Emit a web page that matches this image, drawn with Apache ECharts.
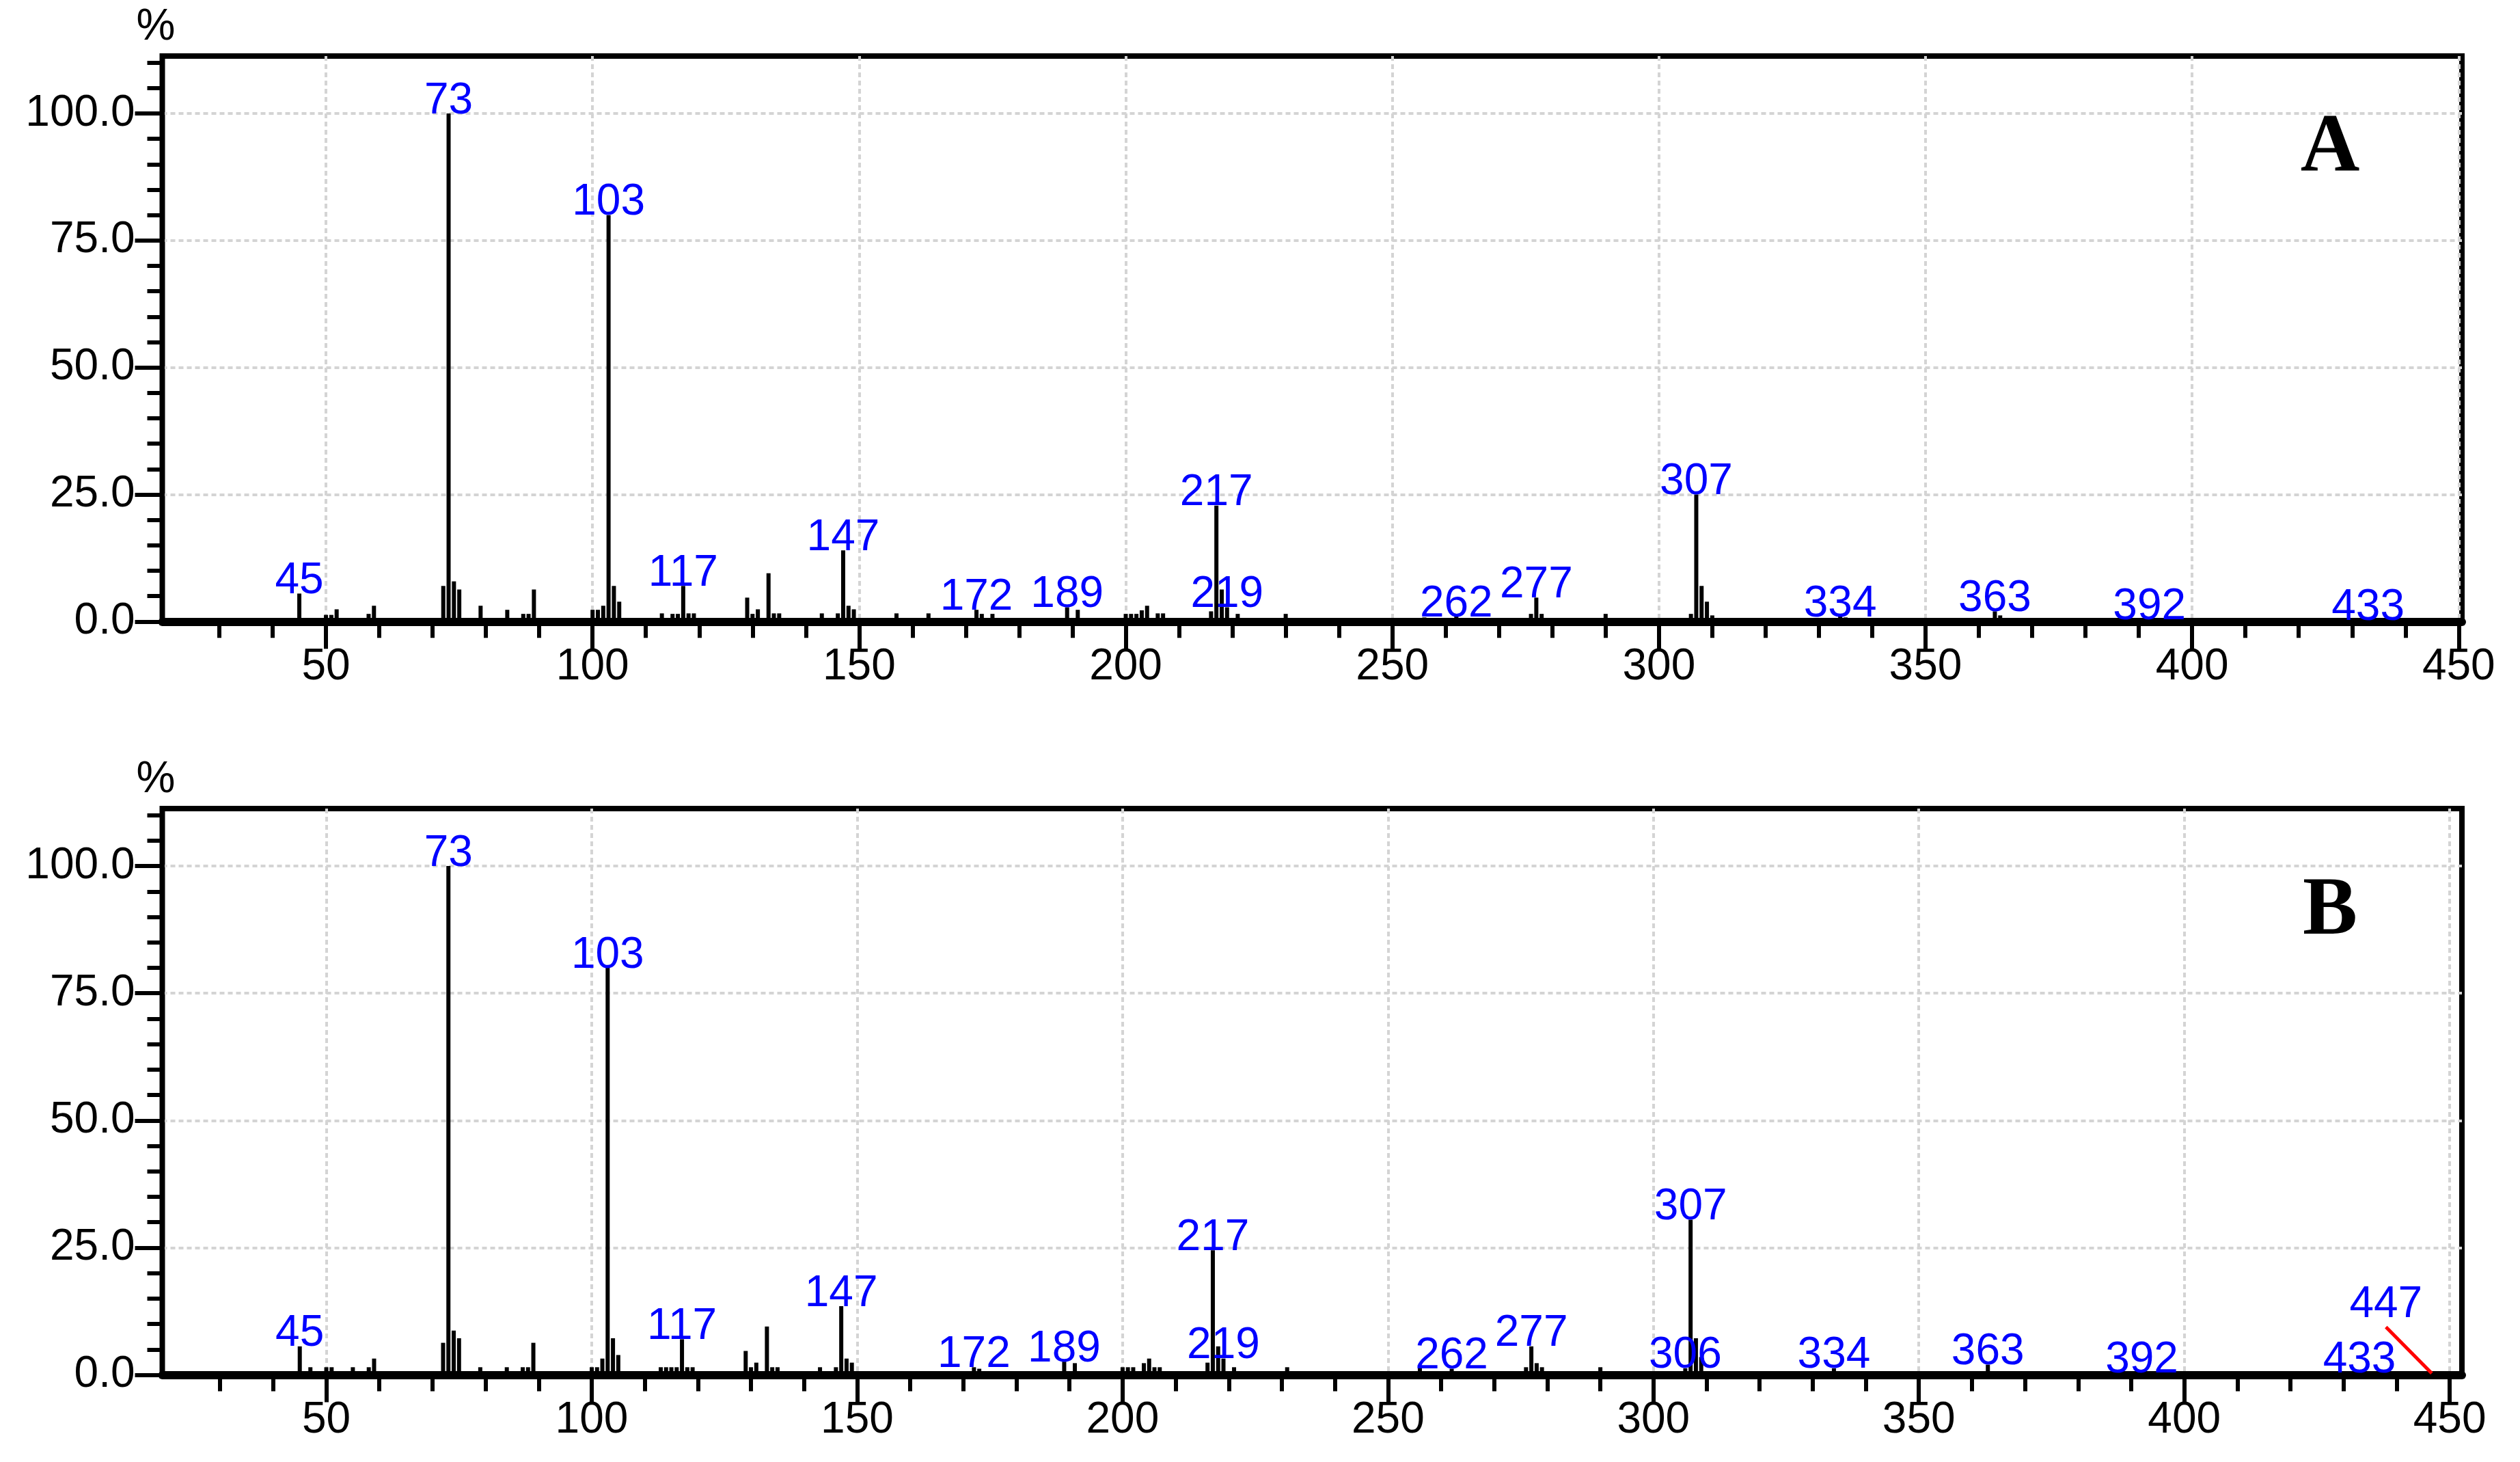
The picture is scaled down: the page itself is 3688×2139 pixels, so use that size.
<!DOCTYPE html>
<html>
<head>
<meta charset="utf-8">
<title>Mass spectra A / B</title>
<script src="https://cdn.jsdelivr.net/npm/echarts@6/dist/echarts.min.js"></script>
<style>
  html, body { margin: 0; padding: 0; background: #fff; }
  #spectra { width: 3688px; height: 2139px; }
</style>
</head>
<body>
<div id="spectra"></div>
<script>
// spectrum A: m/z and relative abundance (%)
const mzA = [45, 50, 51, 52, 58, 59, 72, 73, 74, 75, 79, 84, 87, 88, 89, 100, 101, 102,
  103, 104, 105, 113, 115, 116, 117, 118, 119, 129, 130, 131, 133, 134, 135, 143, 146, 147,
  148, 149, 157, 163, 172, 173, 175, 189, 191, 200, 201, 202, 203, 204, 206, 207, 216, 217,
  218, 219, 221, 230, 256, 262, 276, 277, 278, 290, 306, 307, 308, 309, 310, 334, 335, 363,
  364, 392, 433];
const intA = [5.5, 1.3, 1.3, 2.4, 1.5, 3.1, 7.0, 100, 7.9, 6.3, 3.1, 2.3, 1.5, 1.5, 6.3, 2.3, 2.3, 3.1,
  80, 7.0, 3.9, 1.6, 1.5, 1.5, 7.0, 1.6, 1.6, 4.7, 1.5, 2.4, 9.5, 1.6, 1.6, 1.6, 1.6, 14.0,
  3.1, 2.4, 1.6, 1.6, 2.3, 1.5, 1.5, 2.8, 2.3, 1.5, 1.5, 1.5, 2.2, 3.1, 1.6, 1.6, 2.0, 22.8,
  6.3, 2.8, 1.5, 1.5, 0.8, 1.0, 1.5, 4.7, 1.5, 1.5, 1.5, 25, 7.0, 3.9, 1.2, 1.0, 0.8, 2.0,
  1.2, 0.4, 0.3];
const labelsA = [45, 73, 103, 117, 147, 172, 189, 217, 219, 262, 277, 307, 334, 363, 392, 433];

// spectrum B
const mzB = [45, 47, 50, 51, 55, 58, 59, 72, 73, 74, 75, 79, 84, 87, 88, 89, 100, 101,
  102, 103, 104, 105, 113, 114, 115, 116, 117, 118, 119, 129, 130, 131, 133, 134, 135, 143,
  146, 147, 148, 149, 172, 173, 189, 191, 200, 201, 202, 204, 205, 206, 207, 216, 217, 218,
  219, 221, 231, 256, 262, 276, 277, 278, 279, 290, 306, 307, 308, 309, 334, 363, 392, 433,
  447];
const intB = [5.6, 1.5, 1.5, 1.5, 1.5, 1.5, 3.2, 6.3, 100, 8.7, 7.2, 1.5, 1.5, 1.5, 1.5, 6.3, 1.5, 1.5,
  3.2, 80, 7.2, 3.9, 1.5, 1.5, 1.5, 1.5, 7.0, 1.5, 1.5, 4.7, 1.5, 2.4, 9.5, 1.5, 1.5, 1.5,
  1.5, 13.5, 3.2, 2.4, 1.5, 1.2, 2.6, 2.3, 1.5, 1.5, 1.5, 2.3, 3.2, 1.5, 1.5, 2.4, 24.5, 5.6,
  3.2, 1.5, 1.5, 1.5, 1.2, 1.5, 5.6, 2.3, 1.5, 1.5, 1.3, 30.5, 7.2, 3.5, 1.3, 2.0, 0.4, 0.4,
  0.3];
const labelsB = [45, 73, 103, 117, 147, 172, 189, 217, 219, 262, 277, 306, 307, 334, 363, 392, 433, 447];
// peaks whose label is moved off and tied back with a red guide line
const leaderB = [447];

// axis ticks
const xLabelTicks = [50, 100, 150, 200, 250, 300, 350, 400, 450];
const xMinorTicks = [30, 40, 50, 60, 70, 80, 90, 100, 110, 120, 130, 140, 150, 160, 170, 180,
  190, 200, 210, 220, 230, 240, 250, 260, 270, 280, 290, 300, 310, 320, 330, 340, 350, 360,
  370, 380, 390, 400, 410, 420, 430, 440, 450];
const yLabelTicks = [0, 25, 50, 75, 100];
const yMinorTicks = [0, 5, 10, 15, 20, 25, 30, 35, 40, 45, 50, 55, 60, 65, 70, 75, 80, 85, 90,
  95, 100, 105, 110];

const FONT = 'Liberation Sans';
const gridLine = { show: true, lineStyle: { color: '#d4d4d4', width: 4, type: [7, 5] } };
const tickStyle = { color: '#000', width: 6 };

function xAxes(gridIndex, min, max) {
  return [
    {
      type: 'value', gridIndex: gridIndex, min: min, max: max, splitNumber: 8,
      axisLine: { onZero: false, lineStyle: { color: '#000', width: 12 } },
      axisTick: { customValues: xLabelTicks, length: 40, lineStyle: tickStyle },
      axisLabel: { customValues: xLabelTicks, margin: 35, color: '#000', fontSize: 64, fontFamily: FONT },
      splitLine: gridLine
    },
    {
      type: 'value', gridIndex: gridIndex, min: min, max: max, position: 'bottom',
      axisLine: { show: false, onZero: false },
      axisTick: { customValues: xMinorTicks, length: 24, lineStyle: tickStyle },
      axisLabel: { show: false },
      splitLine: { show: false }
    }
  ];
}

function yAxes(gridIndex) {
  return [
    {
      type: 'value', gridIndex: gridIndex, min: 0, max: 111.3, interval: 25, position: 'left',
      name: '%', nameLocation: 'end', nameGap: 10,
      nameTextStyle: { color: '#000', fontSize: 64, fontFamily: FONT, padding: [0, 19, 0, 0] },
      axisLine: { show: true, lineStyle: { color: '#000', width: 7 } },
      axisTick: { customValues: yLabelTicks, length: 40, lineStyle: tickStyle },
      axisLabel: {
        customValues: yLabelTicks, margin: 40, color: '#000', fontSize: 64, fontFamily: FONT,
        formatter: function (v) { return v.toFixed(1); }
      },
      splitLine: gridLine
    },
    {
      type: 'value', gridIndex: gridIndex, min: 0, max: 111.3, position: 'left',
      axisLine: { show: false },
      axisTick: { customValues: yMinorTicks, length: 22, lineStyle: tickStyle },
      axisLabel: { show: false },
      splitLine: { show: false }
    }
  ];
}

function peaks(mz, inten, labels, leader) {
  return mz.map(function (m, i) {
    let item = { value: [m, inten[i]] };
    if (labels.indexOf(m) > -1) {
      item.label = { show: true };
    }
    if (leader.indexOf(m) > -1) {
      item.labelLine = { show: true, lineStyle: { color: '#ff0000', width: 5 } };
    }
    return item;
  });
}

function barSeries(axisIndex, mz, data, leader) {
  return {
    type: 'bar',
    xAxisIndex: axisIndex,
    yAxisIndex: axisIndex,
    barWidth: 6,
    itemStyle: { color: '#000' },
    label: {
      show: false,
      position: 'top',
      distance: -14,
      color: '#0000ff',
      fontSize: 64,
      fontFamily: FONT,
      formatter: function (p) { return String(p.value[0]); }
    },
    labelLayout: function (p) {
      if (leader.indexOf(mz[p.dataIndex]) < 0) {
        return {};
      }
      // lift the label up and to the left of its peak
      return {
        x: p.rect.x + p.rect.width / 2 - 70,
        y: p.rect.y + p.rect.height - 70,
        align: 'center',
        verticalAlign: 'bottom'
      };
    },
    data: data
  };
}

let myCharts = echarts.init(document.getElementById('spectra'));
let option = {
  animation: false,
  backgroundColor: '#fff',
  grid: [
    { left: 237.5, right: 85, top: 82, bottom: 1229.7, show: true, borderColor: '#000', borderWidth: 8 },
    { left: 237.5, right: 85, top: 1183, bottom: 127.5, show: true, borderColor: '#000', borderWidth: 8 }
  ],
  xAxis: xAxes(0, 19.3, 450.6).concat(xAxes(1, 19.1, 452.3)),
  yAxis: yAxes(0).concat(yAxes(1)),
  graphic: [
    { type: 'text', x: 3410, y: 218, style: { text: 'A', font: 'bold 120px "Liberation Serif"', fill: '#000', align: 'center', verticalAlign: 'middle' } },
    { type: 'text', x: 3410, y: 1335, style: { text: 'B', font: 'bold 120px "Liberation Serif"', fill: '#000', align: 'center', verticalAlign: 'middle' } }
  ],
  series: [
    barSeries(0, mzA, peaks(mzA, intA, labelsA, []), []),
    barSeries(2, mzB, peaks(mzB, intB, labelsB, leaderB), leaderB)
  ]
};
myCharts.setOption(option);
window.addEventListener('resize', function () {
  myCharts.resize();
});
</script>
</body>
</html>
